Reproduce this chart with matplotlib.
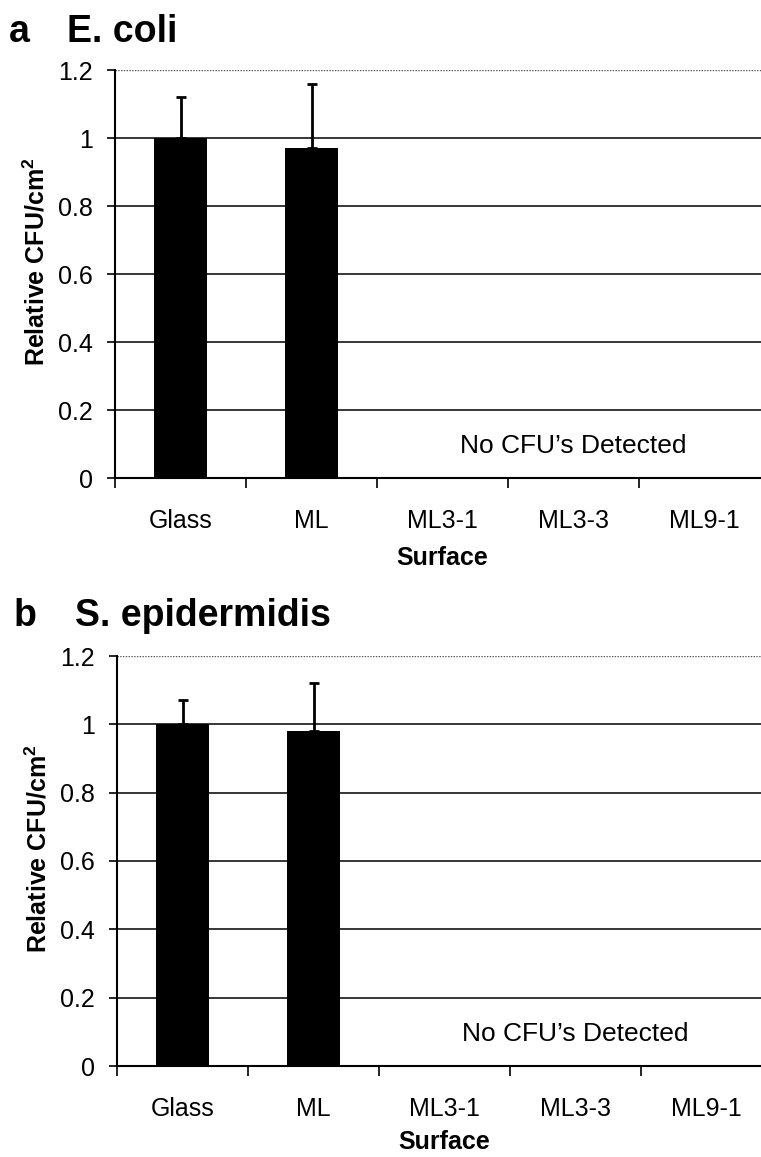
import numpy as np
import matplotlib
matplotlib.use("Agg")
import matplotlib.pyplot as plt
from matplotlib.ticker import FixedLocator

plt.rcParams['font.family'] = ['Liberation Sans', 'DejaVu Sans']
plt.rcParams['mathtext.fontset'] = 'custom'
plt.rcParams['mathtext.rm'] = 'Liberation Sans'
plt.rcParams['mathtext.bf'] = 'Liberation Sans:bold'

# relative colony counts per surface (glass = 1)
surfaces = ['Glass', 'ML', 'ML3-1', 'ML3-3', 'ML9-1']
ecoli_cfu = [1.00, 0.97, 0.0, 0.0, 0.0]
ecoli_err = [0.12, 0.19, 0.0, 0.0, 0.0]
sepi_cfu = [1.00, 0.98, 0.0, 0.0, 0.0]
sepi_err = [0.07, 0.14, 0.0, 0.0, 0.0]
yticks = [0, 0.2, 0.4, 0.6, 0.8, 1, 1.2]
ytick_labels = ['0', '0.2', '0.4', '0.6', '0.8', '1', '1.2']

W, H = 761, 1157
fig = plt.figure(figsize=(W / 100, H / 100), dpi=100)


def px_box(left, top, right, bottom):
    return [left / W, 1 - bottom / H, (right - left) / W, (bottom - top) / H]


def panel(rect, values, errors, letter, name, title_base, letter_x, name_x, xlab_pad):
    ax = fig.add_axes(rect)
    x = np.arange(len(surfaces))
    ax.bar(x, values, width=0.41, color='black', zorder=3)
    shown = np.array(values) > 0
    ax.errorbar(x[shown], np.array(values)[shown],
                yerr=[np.zeros(shown.sum()), np.array(errors)[shown]],
                fmt='none', ecolor='black', elinewidth=2, capsize=3.5,
                capthick=2, zorder=4)
    ax.set_xlim(-0.5, len(surfaces) - 0.5)
    ax.set_ylim(0, 1.2)

    for v in yticks[1:-1]:
        ax.axhline(v, color='black', lw=1.1, zorder=1)
    ax.axhline(1.2, color='#555555', lw=1.0, ls=(0, (1, 1)), zorder=1)

    for s in ['top', 'right']:
        ax.spines[s].set_visible(False)
    ax.spines['left'].set_linewidth(1.5)
    ax.spines['bottom'].set_linewidth(1.5)

    ax.set_yticks(yticks)
    ax.set_yticklabels(ytick_labels, fontsize=18)
    ax.tick_params(axis='y', direction='out', length=6, width=1.2, pad=10)

    ax.set_xticks(x)
    ax.set_xticklabels(surfaces, fontsize=18)
    ax.tick_params(axis='x', which='major', length=0, pad=22)
    ax.xaxis.set_minor_locator(FixedLocator(np.arange(len(surfaces)) - 0.5))
    ax.tick_params(axis='x', which='minor', direction='out', length=7, width=1.2)

    ax.set_xlabel('Surface', fontsize=18, fontweight='bold', labelpad=xlab_pad)
    ax.set_ylabel(r'Relative CFU/cm$\mathbf{^2}$', fontsize=18, fontweight='bold')
    ax.yaxis.set_label_coords(-0.100, 0.53)

    ax.text(3, 0.095, "No CFU’s Detected", fontsize=19, ha='center', va='center')

    fig.text(letter_x / W, 1 - title_base / H, letter, fontsize=27,
             fontweight='bold', va='baseline')
    fig.text(name_x / W, 1 - title_base / H, name, fontsize=27,
             fontweight='bold', va='baseline')
    return ax


panel(px_box(115, 70, 770, 478), ecoli_cfu, ecoli_err, 'a', 'E. coli', 42, 9, 67, 10)
panel(px_box(117, 656, 772, 1066), sepi_cfu, sepi_err, 'b', 'S. epidermidis', 626, 14, 75, 7)

fig.savefig('out.png', dpi=100)
